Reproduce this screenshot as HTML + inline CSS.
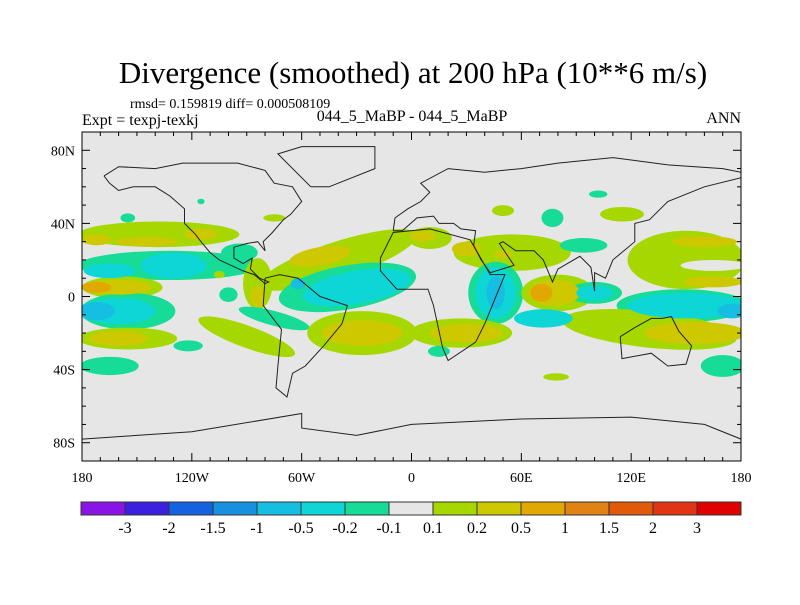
<!DOCTYPE html>
<html><head><meta charset="utf-8"><style>
body{margin:0;background:#fff;}
svg text{font-family:"Liberation Serif",serif;fill:#000;}
</style></head><body>
<svg id="chart" width="800" height="600" viewBox="0 0 800 600" xmlns="http://www.w3.org/2000/svg">
<text x="413" y="83" font-size="31" text-anchor="middle">Divergence (smoothed) at 200 hPa (10**6 m/s)</text>
<text x="130" y="108" font-size="14">rmsd= 0.159819 diff= 0.000508109</text>
<text x="82" y="125" font-size="16">Expt = texpj-texkj</text>
<text x="412" y="121" font-size="16" text-anchor="middle">044_5_MaBP - 044_5_MaBP</text>
<text x="741" y="123" font-size="16" text-anchor="end">ANN</text>
<defs><clipPath id="mapclip"><rect x="82" y="132" width="659" height="329"/></clipPath></defs>
<rect x="82" y="132" width="659" height="329" fill="#e6e6e6"/>
<g id="fields" clip-path="url(#mapclip)"></g>
<g id="coasts" clip-path="url(#mapclip)"></g>
<rect x="82" y="132" width="659" height="329" fill="none" stroke="#000" stroke-width="1"/>
<g id="axes"></g>
<g id="colorbar"></g>
</svg>
<script>
// blob data: lon, lat, half-width (deg), half-height (deg), rotation (deg), value
const blobLon=[-138,-115,-172,-145,-132,-94,-130,-165,-158,-160,-172,-155,-160,-172,-155,-160,-122,-165,-155,-100,-105,-75,-115,-84,-84,-40,-50,-35,-30,-62,-90,-75,-27,-27,10,6,55,30,50,46,46,46,72,80,78,71,100,100,150,160,165,165,148,150,175,130,155,27,30,170,77,94,115,50,102,79,15];
const blobLat=[34,34,31,30,17,24,17,14,5,5,5,-8,-8,-8,-23,-23,-27,-38,43,1,12,43,52,7,0,20,22,5,5,7,-22,-12,-20,-20,32,33,24,26,23,2,2,2,-12,2,2,2,2,2,20,30,8,17,-5,-5,-8,-18,-20,-20,-20,-38,43,28,45,47,56,-44,-30];
const blobRx=[44,9,8,17,50,10,18,14,22,18,8,26,20,10,27,16,8,16,4,5,3,6,2,8,4,45,17,38,30,4,28,20,30,22,12,7,32,8,5,15,11,5,16,20,14,6,15,10,32,18,16,18,36,32,8,48,28,28,20,12,6,13,12,6,5,7,6];
const blobRy=[7,3,3,2.5,8,5,7,4,6,4,3,10,7,5,6,4,3,5,2.5,4,2,2,1.5,14,6,10,5,12,9,3,6,4,12,7,6,3,10,4,2,17,14,9,5,10,7,5,6,4,16,3,3,3,9,7,4,10,6,8,5,6,5,4,4,3,2,2,3];
const blobRot=[0,0,0,0,0,0,0,0,0,0,0,0,0,0,0,0,0,0,0,0,0,0,0,0,0,18,10,10,10,0,-20,-15,0,0,0,0,0,0,0,0,0,0,0,0,0,0,0,0,0,0,0,0,0,0,0,-6,0,0,0,0,0,0,0,0,0,0,0];
const blobVal=[0.15,0.3,0.3,0.3,-0.15,-0.15,-0.3,-0.3,0.15,0.3,0.6,-0.15,-0.3,-0.6,0.15,0.3,-0.15,-0.15,-0.15,-0.15,0.15,0.15,-0.15,0.15,0.3,0.15,0.3,-0.15,-0.3,-0.6,0.15,-0.15,0.15,0.3,0.15,0.3,0.15,0.3,0.3,-0.15,-0.3,-0.6,-0.3,0.15,0.3,0.6,-0.15,-0.3,0.15,0.3,0.3,0,-0.15,-0.3,-0.6,0.15,0.3,0.15,0.3,-0.15,-0.15,-0.15,0.15,0.15,-0.15,0.15,-0.15];
const levelBounds=[-3,-2,-1.5,-1,-0.5,-0.2,-0.1,0.1,0.2,0.5,1,1.5,2,3];
const levelLabels=["-3","-2","-1.5","-1","-0.5","-0.2","-0.1","0.1","0.2","0.5","1","1.5","2","3"];
const levelColors=["#8a14e6","#3c20e0","#1462e0","#1890e0","#16bfe2","#0ed6d6","#16dc98","#e6e6e6","#a6d800","#cec800","#e0a800","#e08214","#e05a0a","#e03414","#e00000"];
const lonTickVals=[-180,-120,-60,0,60,120,180];
const lonTickLabels=["180","120W","60W","0","60E","120E","180"];
const latTickVals=[80,40,0,-40,-80];
const latTickLabels=["80N","40N","0","40S","80S"];
const coastNA=[[-168,66],[-160,71],[-140,70],[-125,73],[-95,73],[-80,69],[-75,62],[-65,60],[-60,52],[-66,45],[-70,42],[-76,35],[-81,30],[-80,25],[-84,30],[-90,29],[-97,27],[-97,21],[-92,18],[-87,21],[-88,15],[-83,10],[-78,8],[-80,7],[-86,12],[-92,14],[-105,20],[-110,24],[-115,30],[-118,34],[-124,40],[-124,48],[-132,55],[-140,60],[-152,60],[-160,58],[-165,62],[-168,66]];
const coastSA=[[-80,10],[-72,12],[-62,10],[-50,0],[-35,-5],[-38,-15],[-48,-27],[-58,-38],[-65,-42],[-68,-55],[-74,-50],[-73,-38],[-71,-18],[-81,-5],[-80,10]];
const coastAF=[[-17,21],[-10,35],[10,37],[32,31],[43,12],[51,12],[40,-15],[35,-25],[20,-35],[17,-28],[12,-5],[9,4],[-8,4],[-17,14],[-17,21]];
const coastEU=[[-10,36],[-9,43],[-2,48],[5,52],[10,57],[5,62],[20,70],[40,68],[60,70],[80,73],[110,76],[140,72],[170,70],[180,68],[180,65],[160,60],[140,52],[130,42],[122,40],[122,30],[110,20],[106,10],[100,13],[100,3],[98,16],[92,22],[80,15],[77,8],[72,20],[67,25],[57,25],[50,30],[48,29],[56,17],[43,13],[38,20],[34,28],[35,36],[27,37],[23,40],[15,40],[12,44],[3,43],[-5,36],[-10,36]];
const coastAU=[[114,-22],[122,-17],[131,-12],[137,-12],[142,-11],[146,-19],[153,-27],[150,-37],[140,-38],[131,-31],[115,-34],[114,-22]];
const coastGL=[[-55,60],[-45,60],[-20,70],[-20,82],[-60,82],[-73,78],[-55,60]];
const coastAN=[[-180,-78],[-150,-76],[-120,-74],[-60,-64],[-60,-72],[-30,-76],[0,-70],[60,-67],[120,-66],[160,-70],[180,-78]];

const NS="http://www.w3.org/2000/svg";
const X0=82,W=659,Y0=132,H=329;
function xOf(lon){return X0+(lon+180)*W/360;}
function yOf(lat){return Y0+(90-lat)*H/180;}
function colorOf(v){let i=0;while(i<levelBounds.length&&v>=levelBounds[i])i++;return levelColors[i];}
function mk(tag,attrs,parent){const e=document.createElementNS(NS,tag);for(const k in attrs)e.setAttribute(k,attrs[k]);parent.appendChild(e);return e;}

const fields=document.getElementById('fields');
const order=blobVal.map((v,i)=>i);
order.sort((a,b)=>{const ra=blobVal[a]===0?0.2:Math.abs(blobVal[a]);const rb=blobVal[b]===0?0.2:Math.abs(blobVal[b]);return ra!==rb?ra-rb:a-b;});
order.forEach(i=>{
  const cx=xOf(blobLon[i]),cy=yOf(blobLat[i]);
  const e=mk('ellipse',{cx:cx,cy:cy,rx:blobRx[i]*W/360,ry:blobRy[i]*H/180,fill:colorOf(blobVal[i]),transform:'rotate('+(-blobRot[i])+' '+cx+' '+cy+')'},fields);
  
  
});

const coasts=document.getElementById('coasts');
[coastNA,coastSA,coastAF,coastEU,coastAU,coastGL,coastAN].forEach(c=>{
  const p=mk('polyline',{points:c.map(q=>xOf(q[0]).toFixed(1)+','+yOf(q[1]).toFixed(1)).join(' '),fill:'none',stroke:'#222',"stroke-width":1},coasts);
  
  
});

const axes=document.getElementById('axes');
for(let lon=-180;lon<=180;lon+=10){
  const x=xOf(lon),len=(lon%60===0)?8:4;
  mk('line',{x1:x,y1:Y0,x2:x,y2:Y0+len,stroke:'#000'},axes);
  mk('line',{x1:x,y1:Y0+H,x2:x,y2:Y0+H-len,stroke:'#000'},axes);
}
for(let lat=-90;lat<=90;lat+=10){
  const y=yOf(lat),len=(lat%40===0&&Math.abs(lat)<=80)?8:4;
  mk('line',{x1:X0,y1:y,x2:X0+len,y2:y,stroke:'#000'},axes);
  mk('line',{x1:X0+W,y1:y,x2:X0+W-len,y2:y,stroke:'#000'},axes);
}
lonTickVals.forEach((v,i)=>{
  const t=mk('text',{x:xOf(v),y:482,"font-size":14,"text-anchor":"middle"},axes);
  t.textContent=lonTickLabels[i];
  
  
});
latTickVals.forEach((v,i)=>{
  const t=mk('text',{x:75,y:yOf(v)+5,"font-size":14,"text-anchor":"end"},axes);
  t.textContent=latTickLabels[i];
  
  
});

const cb=document.getElementById('colorbar');
const CBX=81,CBW=660,CBY=502,CBH=13,bw=CBW/levelColors.length;
levelColors.forEach((c,i)=>{
  const r=mk('rect',{x:CBX+i*bw,y:CBY,width:bw,height:CBH,fill:c,stroke:'#333',"stroke-width":1},cb);
  
  
});
levelLabels.forEach((l,i)=>{
  const t=mk('text',{x:CBX+(i+1)*bw,y:533,"font-size":16,"text-anchor":"middle"},cb);
  t.textContent=l;
  
  
});
</script>
</body></html>
